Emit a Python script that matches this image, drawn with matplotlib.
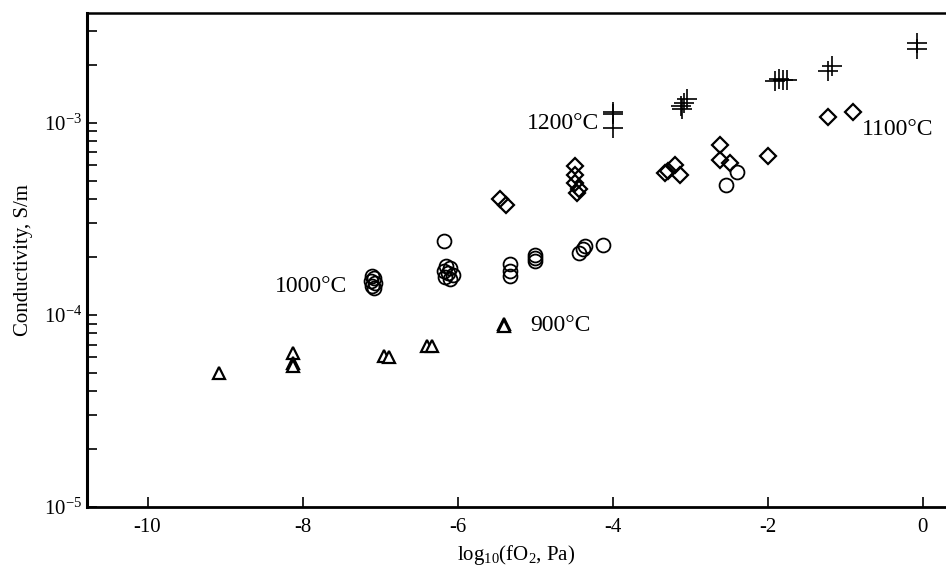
import matplotlib
matplotlib.use("Agg")
import matplotlib.pyplot as plt
import numpy as np
from matplotlib.ticker import LogLocator, NullFormatter

plt.rcParams["font.family"] = ["Liberation Serif", "DejaVu Serif"]
plt.rcParams["mathtext.fontset"] = "custom"
plt.rcParams["mathtext.rm"] = "Liberation Serif"
plt.rcParams["mathtext.it"] = "Liberation Serif:italic"
plt.rcParams["axes.unicode_minus"] = False

# 900 C (triangles)
x_900 = [-9.08, -8.12, -8.12, -8.12, -6.95, -6.88, -6.39, -6.33, -5.40, -5.40]
y_900 = [5.0e-5, 6.3e-5, 5.6e-5, 5.45e-5, 6.1e-5, 6.05e-5, 6.85e-5, 6.85e-5, 9.0e-5, 8.7e-5]

# 1000 C (circles)
x_1000 = [-7.10, -7.08, -7.12, -7.06, -7.10, -7.08,
          -6.17, -6.15, -6.10, -6.18, -6.12, -6.06, -6.16, -6.10,
          -5.32, -5.32, -5.32, -5.00, -5.00, -5.00,
          -4.44, -4.38, -4.36, -4.13, -2.39, -2.54]
y_1000 = [1.60e-4, 1.55e-4, 1.50e-4, 1.46e-4, 1.42e-4, 1.38e-4,
          2.41e-4, 1.80e-4, 1.76e-4, 1.70e-4, 1.65e-4, 1.62e-4, 1.57e-4, 1.53e-4,
          1.83e-4, 1.70e-4, 1.59e-4, 2.06e-4, 1.97e-4, 1.90e-4,
          2.10e-4, 2.21e-4, 2.28e-4, 2.30e-4, 5.55e-4, 4.72e-4]

# 1100 C (diamonds)
x_1100 = [-5.45, -5.38, -4.49, -4.49, -4.49, -4.44, -4.46,
          -3.20, -3.33, -3.13, -3.28, -2.61, -2.61, -2.48, -2.00, -1.22, -0.90]
y_1100 = [4.02e-4, 3.75e-4, 5.93e-4, 5.37e-4, 4.86e-4, 4.49e-4, 4.31e-4,
          6.05e-4, 5.48e-4, 5.31e-4, 5.58e-4, 7.62e-4, 6.37e-4, 6.18e-4, 6.74e-4, 1.07e-3, 1.13e-3]

# 1200 C (plus)
x_1200 = [-3.99, -3.99, -4.00, -3.12, -3.08, -3.04, -3.10,
          -1.90, -1.85, -1.80, -1.75, -1.22, -1.17, -0.08, -0.08]
y_1200 = [1.14e-3, 1.11e-3, 9.4e-4, 1.22e-3, 1.27e-3, 1.32e-3, 1.18e-3,
          1.64e-3, 1.68e-3, 1.66e-3, 1.67e-3, 1.85e-3, 1.96e-3, 2.60e-3, 2.42e-3]

labels = ["900°C", "1000°C", "1100°C", "1200°C"]

fig = plt.figure(figsize=(9.46, 5.71), dpi=100)
ax = fig.add_axes([0.092, 0.112, 0.908, 0.866])

ax.plot(x_900, y_900, "^", ms=8, mfc="white", mec="black", mew=1.6, ls="none")
ax.plot(x_1000, y_1000, "o", ms=10, mfc="none", mec="black", mew=1.3, ls="none")
ax.plot(x_1100, y_1100, "D", ms=8, mfc="none", mec="black", mew=1.6, ls="none")
ax.plot(x_1200, y_1200, "+", ms=15, mec="black", mew=1.2, ls="none")

ax.text(-5.06, 8.8e-5, labels[0], fontsize=17, va="center", ha="left")
ax.text(-7.42, 1.41e-4, labels[1], fontsize=17, va="center", ha="right")
ax.text(-0.78, 9.2e-4, labels[2], fontsize=17, va="center", ha="left")
ax.text(-4.18, 9.9e-4, labels[3], fontsize=17, va="center", ha="right")

ax.set_yscale("log")
ax.set_xlim(-10.78, 0.30)
ax.set_ylim(1e-5, 3.74e-3)
ax.set_xticks([-10, -8, -6, -4, -2, 0])
ax.yaxis.set_major_locator(LogLocator(base=10, numticks=10))
ax.yaxis.set_minor_locator(LogLocator(base=10, subs=np.arange(2, 10), numticks=20))
ax.yaxis.set_minor_formatter(NullFormatter())

ax.tick_params(which="both", direction="in", labelsize=15, width=1.2)
ax.tick_params(which="major", length=7)
ax.tick_params(which="minor", length=7)
ax.tick_params(axis="x", pad=8)

ax.spines["right"].set_visible(False)
ax.spines["left"].set_linewidth(2.2)
ax.spines["bottom"].set_linewidth(2.0)
ax.spines["top"].set_linewidth(1.8)

ax.set_xlabel("log$_{10}$(fO$_2$, Pa)", fontsize=15, labelpad=4)
ax.set_ylabel("Conductivity, S/m", fontsize=15, labelpad=8)

fig.savefig("out.png", dpi=100)
